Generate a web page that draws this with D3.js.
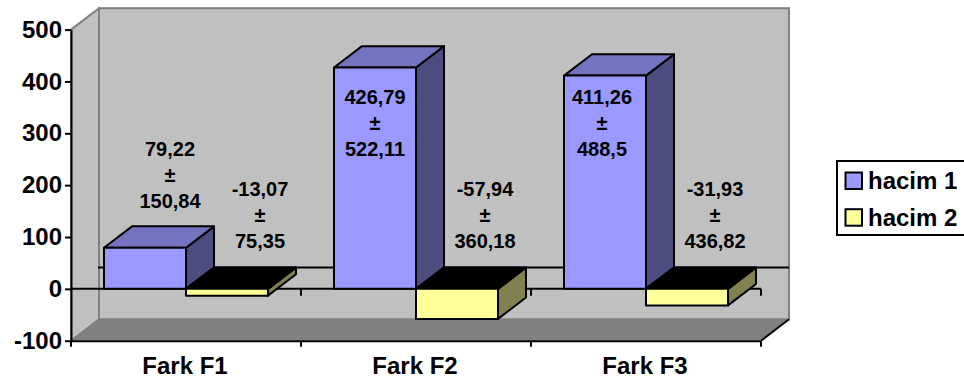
<!DOCTYPE html>
<html>
<head>
<meta charset="utf-8">
<script src="https://cdn.jsdelivr.net/npm/d3@7"></script>
<style>
  html, body { margin: 0; background: #fff; overflow: hidden; }
  svg { display: block; }
  text { font-family: "Liberation Sans", Arial, sans-serif; font-weight: bold; fill: #000; }
  .axis text { font-size: 24px; }
  .value-label { font-size: 20px; }
  .legend-label { font-size: 24px; }
</style>
</head>
<body>
<svg width="964" height="381"></svg>
<script>
const width = 964;
const height = 381;

const categories = ["Fark F1", "Fark F2", "Fark F3"];
const seriesNames = ["hacim 1", "hacim 2"];
const hacim1 = [79.22, 426.79, 411.26];
const hacim2 = [-13.07, -57.94, -31.93];
const hacim1Err = ["150,84", "522,11", "488,5"];
const hacim2Err = ["75,35", "360,18", "436,82"];
const hacim1Text = ["79,22", "426,79", "411,26"];
const hacim2Text = ["-13,07", "-57,94", "-31,93"];
const yTicks = [-100, 0, 100, 200, 300, 400, 500];

// where each three-line label sits, relative to its bar
const labelShiftX = [[25, 33], [0, 28], [-3, 28]];
const labelBaselineY = [[155.5, 196], [103.5, 195.5], [103.5, 195.5]];

const colors = {
  "hacim 1": { front: "#9999ff", top: "#7373bf", side: "#4d4d80" },
  "hacim 2": { front: "#ffff99", top: "#000000", side: "#808050" }
};

const depthX = 28;
const depthY = 21.4;

const svg = d3.select("svg");

const y = d3.scaleLinear().domain([-100, 500]).range([340.7, 29.6]);
const x = d3.scaleBand().domain(categories).range([71, 761]);
const xSeries = d3.scaleBand().domain(seriesNames).range([33, 197]);

const polygon = pts => pts.map(p => p.join(",")).join(" ");

// walls and floor
const plotLeft = x.range()[0];
const plotRight = x.range()[1];
const yTop = y(500);
const yBottom = y(-100);

svg.append("polygon")
  .attr("points", polygon([[plotLeft, yTop], [plotLeft + depthX, yTop - depthY], [plotLeft + depthX, yBottom - depthY], [plotLeft, yBottom]]))
  .attr("fill", "#c0c0c0")
  .attr("stroke", "#808080")
  .attr("stroke-width", 2);

svg.append("rect")
  .attr("x", plotLeft + depthX)
  .attr("y", yTop - depthY)
  .attr("width", plotRight - plotLeft)
  .attr("height", yBottom - yTop)
  .attr("fill", "#c0c0c0")
  .attr("stroke", "#808080")
  .attr("stroke-width", 2);

svg.append("polygon")
  .attr("points", polygon([[plotLeft, yBottom], [plotLeft + depthX, yBottom - depthY], [plotRight + depthX, yBottom - depthY], [plotRight, yBottom]]))
  .attr("fill", "#808080");

svg.append("line")
  .attr("x1", plotRight).attr("y1", yBottom)
  .attr("x2", plotRight + depthX).attr("y2", yBottom - depthY)
  .attr("stroke", "#000")
  .attr("stroke-width", 2);

// zero line on the back wall, then the one in front
svg.append("line")
  .attr("x1", plotLeft + depthX - 1).attr("y1", y(0) - depthY)
  .attr("x2", plotRight + depthX).attr("y2", y(0) - depthY)
  .attr("stroke", "#000")
  .attr("stroke-width", 2);

svg.append("line")
  .attr("x1", plotLeft).attr("y1", y(0))
  .attr("x2", plotRight).attr("y2", y(0))
  .attr("stroke", "#000")
  .attr("stroke-width", 2);

const tickXs = categories.map(c => x(c) + x.bandwidth());
svg.append("g")
  .selectAll("line")
  .data(tickXs)
  .join("line")
  .attr("x1", d => d).attr("x2", d => d)
  .attr("y1", y(0)).attr("y2", y(0) + 7)
  .attr("stroke", "#000")
  .attr("stroke-width", 2);

// bars as front, top and side faces
const barData = [];
categories.forEach((c, i) => {
  barData.push({ category: c, series: "hacim 1", value: hacim1[i] });
  barData.push({ category: c, series: "hacim 2", value: hacim2[i] });
});

const bars = svg.append("g")
  .attr("stroke", "#000")
  .attr("stroke-width", 2)
  .attr("stroke-linejoin", "round")
  .selectAll("g")
  .data(barData)
  .join("g");

const barBox = d => {
  const x0 = x(d.category) + xSeries(d.series);
  const x1 = x0 + xSeries.bandwidth();
  const yHigh = y(Math.max(d.value, 0));
  const yLow = y(Math.min(d.value, 0));
  return { x0, x1, yHigh, yLow };
};

bars.append("polygon")
  .attr("fill", d => colors[d.series].side)
  .attr("points", d => {
    const b = barBox(d);
    return polygon([[b.x1, b.yHigh], [b.x1 + depthX, b.yHigh - depthY], [b.x1 + depthX, b.yLow - depthY], [b.x1, b.yLow]]);
  });

bars.append("polygon")
  .attr("fill", d => colors[d.series].top)
  .attr("points", d => {
    const b = barBox(d);
    return polygon([[b.x0, b.yHigh], [b.x0 + depthX, b.yHigh - depthY], [b.x1 + depthX, b.yHigh - depthY], [b.x1, b.yHigh]]);
  });

bars.append("rect")
  .attr("fill", d => colors[d.series].front)
  .attr("x", d => barBox(d).x0)
  .attr("y", d => barBox(d).yHigh)
  .attr("width", xSeries.bandwidth())
  .attr("height", d => barBox(d).yLow - barBox(d).yHigh);

// axes
const yAxis = d3.axisLeft(y)
  .tickValues(yTicks)
  .tickFormat(d => String(d))
  .tickSize(6)
  .tickSizeOuter(0)
  .tickPadding(3);

svg.append("g")
  .attr("class", "axis")
  .attr("transform", `translate(${plotLeft},0)`)
  .call(yAxis);

const xAxis = d3.axisBottom(x).tickSize(0).tickSizeOuter(0).tickPadding(16);

svg.append("g")
  .attr("class", "axis")
  .attr("transform", `translate(-1,${yBottom})`)
  .call(xAxis);

svg.selectAll(".axis path, .axis line")
  .attr("stroke", "#000")
  .attr("stroke-width", 2);

svg.selectAll(".axis text").attr("fill", "#000");

svg.append("g")
  .selectAll("line")
  .data([plotLeft, ...tickXs])
  .join("line")
  .attr("x1", d => d).attr("x2", d => d)
  .attr("y1", yBottom).attr("y2", yBottom + 6)
  .attr("stroke", "#000")
  .attr("stroke-width", 2);

// value labels, three lines each
const labelData = [];
categories.forEach((c, i) => {
  [[hacim1Text, hacim1Err], [hacim2Text, hacim2Err]].forEach(([mean, err], s) => {
    labelData.push({
      category: c,
      series: seriesNames[s],
      lines: [mean[i], "±", err[i]],
      shift: labelShiftX[i][s],
      baseline: labelBaselineY[i][s]
    });
  });
});

svg.append("g")
  .selectAll("text")
  .data(labelData)
  .join("text")
  .attr("class", "value-label")
  .attr("text-anchor", "middle")
  .attr("x", d => x(d.category) + xSeries(d.series) + xSeries.bandwidth() / 2 + d.shift)
  .attr("y", d => d.baseline)
  .selectAll("tspan")
  .data(d => d.lines)
  .join("tspan")
  .attr("x", function() { return this.parentNode.getAttribute("x"); })
  .attr("dy", (d, i) => i ? 26 : 0)
  .text(d => d);

// legend, its box runs off the right edge
const legend = svg.append("g");

legend.append("rect")
  .attr("x", 837).attr("y", 161)
  .attr("width", 140).attr("height", 74)
  .attr("fill", "#fff")
  .attr("stroke", "#000")
  .attr("stroke-width", 2);

const legendRows = legend.selectAll("g")
  .data(seriesNames)
  .join("g")
  .attr("transform", (d, i) => `translate(0,${i * 36.7})`);

legendRows.append("rect")
  .attr("x", 845.5).attr("y", 172.5)
  .attr("width", 16.5).attr("height", 16.5)
  .attr("fill", d => colors[d].front)
  .attr("stroke", "#000")
  .attr("stroke-width", 2);

legendRows.append("text")
  .attr("class", "legend-label")
  .attr("x", 868)
  .attr("y", 189.3)
  .text(d => d);
</script>
</body>
</html>
